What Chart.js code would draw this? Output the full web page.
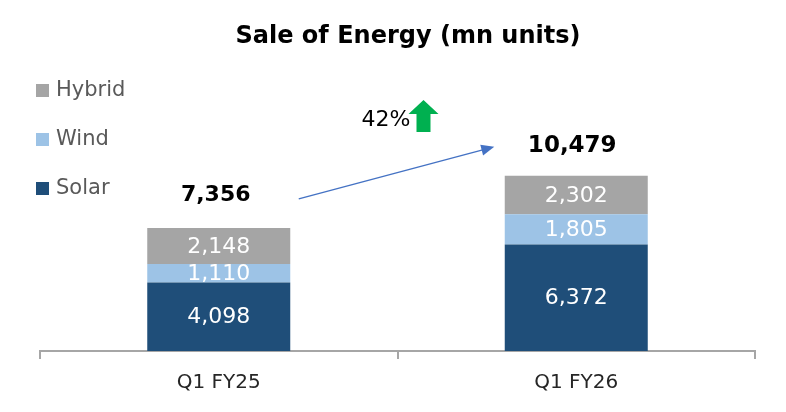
<!DOCTYPE html>
<html>
<head>
<meta charset="utf-8">
<script src="https://cdn.jsdelivr.net/npm/chart.js@4/dist/chart.umd.min.js"></script>
<style>
html,body{margin:0;padding:0;background:#fff;}
#wrap{width:786px;height:412px;position:relative;}
</style>
</head>
<body>
<div id="wrap"><canvas id="c" width="786" height="412"></canvas></div>
<script>
const categories = ["Q1 FY25", "Q1 FY26"];
const solar = [4098, 6372];
const wind = [1110, 1805];
const hybrid = [2148, 2302];
const totals = [7356, 10479];
const growthLabel = "42%";
const titleText = "Sale of Energy (mn units)";

const FONT = "'DejaVu Sans', Verdana, sans-serif";
const fmt = v => v.toLocaleString('en-US');

const overlay = {
  id: 'overlay',
  afterDatasetsDraw(chart) {
    const ctx = chart.ctx;
    const xs = chart.scales.x, ys = chart.scales.y;
    ctx.save();
    // segment labels
    chart.data.datasets.forEach((ds, di) => {
      const meta = chart.getDatasetMeta(di);
      meta.data.forEach((bar, i) => {
        const yc = (bar.y + bar.base) / 2;
        ctx.fillStyle = '#ffffff';
        ctx.font = "22px " + FONT;
        ctx.textAlign = 'center';
        ctx.textBaseline = 'middle';
        ctx.fillText(fmt(ds.data[i]), bar.x, yc + 1);
      });
    });
    // totals
    const totPos = totals.map((t, i) => ({x: xs.getPixelForValue(i), y: ys.getPixelForValue(t)}));
    ctx.fillStyle = '#000';
    ctx.font = "bold 22px " + FONT;
    ctx.textAlign = 'center';
    ctx.textBaseline = 'middle';
    ctx.fillText(fmt(totals[0]), totPos[0].x - 3, totPos[0].y - 33);
    ctx.font = "bold 23px " + FONT;
    ctx.fillText(fmt(totals[1]), totPos[1].x - 4, totPos[1].y - 30);
    // arrow between totals
    const x1 = totPos[0].x + 80, y1 = totPos[0].y - 29;
    const x2 = totPos[1].x - 82, y2 = totPos[1].y - 29;
    const ang = Math.atan2(y2 - y1, x2 - x1);
    ctx.strokeStyle = '#4472C4';
    ctx.fillStyle = '#4472C4';
    ctx.lineWidth = 1.3;
    ctx.beginPath();
    ctx.moveTo(x1, y1);
    ctx.lineTo(x2 - 10 * Math.cos(ang), y2 - 10 * Math.sin(ang));
    ctx.stroke();
    ctx.beginPath();
    ctx.moveTo(x2, y2);
    ctx.lineTo(x2 - 13 * Math.cos(ang) + 5.5 * Math.sin(ang), y2 - 13 * Math.sin(ang) - 5.5 * Math.cos(ang));
    ctx.lineTo(x2 - 13 * Math.cos(ang) - 5.5 * Math.sin(ang), y2 - 13 * Math.sin(ang) + 5.5 * Math.cos(ang));
    ctx.closePath();
    ctx.fill();
    // growth label
    const gx = (x1 + x2) / 2;
    ctx.fillStyle = '#000';
    ctx.font = "22px " + FONT;
    ctx.textAlign = 'right';
    ctx.textBaseline = 'middle';
    ctx.fillText(growthLabel, gx + 14, 120);
    // green up arrow
    const ax = gx + 12;
    ctx.fillStyle = '#00B050';
    ctx.beginPath();
    ctx.moveTo(ax + 15, 100);
    ctx.lineTo(ax + 30, 114);
    ctx.lineTo(ax + 22, 114);
    ctx.lineTo(ax + 22, 132);
    ctx.lineTo(ax + 8, 132);
    ctx.lineTo(ax + 8, 114);
    ctx.lineTo(ax, 114);
    ctx.closePath();
    ctx.fill();
    // legend
    const items = [
      {label: chart.data.datasets[2].label, color: chart.data.datasets[2].backgroundColor, y: 90},
      {label: chart.data.datasets[1].label, color: chart.data.datasets[1].backgroundColor, y: 139},
      {label: chart.data.datasets[0].label, color: chart.data.datasets[0].backgroundColor, y: 188}
    ];
    items.forEach(it => {
      ctx.fillStyle = it.color;
      ctx.fillRect(36, it.y - 6, 13, 13);
      ctx.fillStyle = '#595959';
      ctx.font = "21px " + FONT;
      ctx.textAlign = 'left';
      ctx.textBaseline = 'middle';
      ctx.fillText(it.label, 56, it.y + 1);
    });
    // title
    ctx.fillStyle = '#000';
    ctx.font = "bold 24px " + FONT;
    ctx.textAlign = 'center';
    ctx.textBaseline = 'middle';
    ctx.fillText(titleText, 408, 37);
    ctx.restore();
  }
};

new Chart(document.getElementById('c'), {
  type: 'bar',
  data: {
    labels: categories,
    datasets: [
      {label: 'Solar', data: solar, backgroundColor: '#1F4E79'},
      {label: 'Wind', data: wind, backgroundColor: '#9DC3E6'},
      {label: 'Hybrid', data: hybrid, backgroundColor: '#A5A5A5'}
    ]
  },
  options: {
    responsive: false,
    animation: false,
    layout: {padding: {left: 40, right: 31, top: 60, bottom: 5}},
    plugins: {legend: {display: false}, tooltip: {enabled: false}, title: {display: false}},
    datasets: {bar: {categoryPercentage: 0.8, barPercentage: 0.5}},
    scales: {
      x: {
        stacked: true,
        grid: {display: true, drawOnChartArea: false, color: '#A6A6A6', lineWidth: 2, tickLength: 8, offset: true},
        border: {display: true, color: '#A6A6A6', width: 2},
        ticks: {color: '#262626', font: {family: FONT, size: 20}, padding: 12}
      },
      y: {
        stacked: true,
        display: false,
        min: 0,
        max: 17400
      }
    }
  },
  plugins: [overlay]
});
</script>
</body>
</html>
